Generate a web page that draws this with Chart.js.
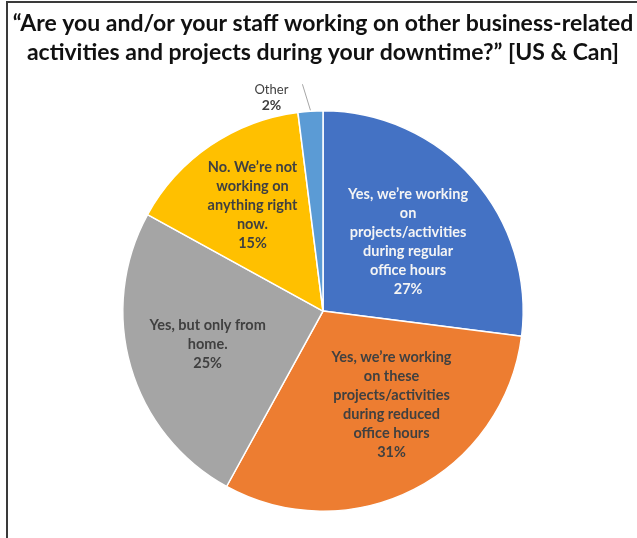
<!DOCTYPE html>
<html>
<head>
<meta charset="utf-8">
<script src="https://cdn.jsdelivr.net/npm/chart.js@4.4.1/dist/chart.umd.min.js"></script>
<style>
  html, body { margin: 0; padding: 0; background: #fff; }
  #wrap { position: relative; width: 637px; height: 538px; overflow: hidden; }
  #frame {
    position: absolute; left: 6px; top: 1px; width: 700px; height: 600px;
    border-top: 2px solid #3a3a3a; border-left: 2px solid #3a3a3a;
    pointer-events: none;
  }
  canvas { position: absolute; left: 0; top: 0; }
</style>
</head>
<body>
<div id="wrap">
  <canvas id="grafico" width="637" height="538"></canvas>
  <div id="frame"></div>
</div>
<script>
const categorias = [
    ['Yes, we’re working', 'on', 'projects/activities', 'during regular', 'office hours'],
    ['Yes, we’re working', 'on these', 'projects/activities', 'during reduced', 'office hours'],
    ['Yes, but only from', 'home.'],
    ['No. We’re not', 'working on', 'anything right', 'now.'],
    ['Other']
];
const valores = [27, 31, 25, 15, 2];
const cores = ['#4472C4', '#ED7D31', '#A5A5A5', '#FFC000', '#5B9BD5'];

const titulo = [
    '“Are you and/or your staff working on other business-related',
    'activities and projects during your downtime?” [US & Can]'
];

// little nudges so each label sits where it reads best in its slice
const ajusteRotulo = [[-5, 10], [14, -13], [0, 0], [-3, -6]];
const corRotulo = ['#f4f4f4', '#404040', '#404040', '#404040', '#404040'];

const rotulos = {
    id: 'rotulos',
    afterDatasetsDraw(chart) {
        const c = chart.ctx;
        const arcos = chart.getDatasetMeta(0).data;
        const fonte = 'bold 14.5px Lato';
        const altura = 19;
        c.save();
        c.font = fonte;
        c.textAlign = 'center';
        c.textBaseline = 'middle';
        arcos.forEach((arco, i) => {
            const p = arco.getProps(['x', 'y', 'startAngle', 'endAngle', 'outerRadius'], true);
            const meio = (p.startAngle + p.endAngle) / 2;
            const linhas = categorias[i].concat([valores[i] + '%']);
            c.fillStyle = corRotulo[i];
            if (i < ajusteRotulo.length) {
                const r = p.outerRadius * 0.6;
                const cx = p.x + Math.cos(meio) * r + ajusteRotulo[i][0];
                const cy = p.y + Math.sin(meio) * r + ajusteRotulo[i][1];
                const y0 = cy - (linhas.length - 1) * altura / 2;
                linhas.forEach((t, k) => c.fillText(t, cx, y0 + k * altura));
            } else {
                // small slice: label outside with a leader line
                const ex = p.x + Math.cos(meio) * p.outerRadius;
                const ey = p.y + Math.sin(meio) * p.outerRadius;
                const lx = ex - 39, ly = ey - 13;
                c.font = '13px Lato';
                c.fillStyle = '#404040';
                c.fillText(linhas[0], lx, ly - 8);
                c.font = 'bold 14px Lato';
                c.fillText(linhas[1], lx, ly + 7);
                c.strokeStyle = '#a6a6a6';
                c.lineWidth = 1;
                c.beginPath();
                c.moveTo(ex - 8, ey - 27);
                c.lineTo(ex, ey - 1);
                c.stroke();
            }
        });
        c.restore();
    }
};

const ctx = document.getElementById('grafico');

const grafico = new Chart(ctx, {
    type: 'pie',
    data: {
        labels: categorias.map(l => l.join(' ')),
        datasets: [{
            data: valores,
            backgroundColor: cores,
            borderColor: '#ffffff',
            borderWidth: 1.5
        }]
    },
    options: {
        responsive: false,
        animation: false,
        layout: { padding: { top: 10, bottom: 26, left: 9, right: 0 } },
        plugins: {
            legend: { display: false },
            tooltip: { enabled: false },
            title: {
                display: true,
                text: titulo,
                color: '#111111',
                font: { family: 'Lato', size: 23, weight: 'bold', lineHeight: 1.22 },
                padding: { top: 0, bottom: 44 }
            }
        }
    },
    plugins: [rotulos]
});
</script>
</body>
</html>
